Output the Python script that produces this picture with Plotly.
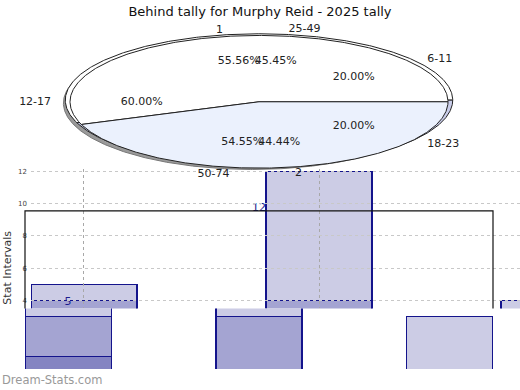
import numpy as np
import plotly.graph_objects as go

# ---------------- data ----------------
title_text = "Behind tally for Murphy Reid - 2025 tally"

pie_a_labels = ["6-11", "12-17", "18-23"]
pie_a_values = [1, 3, 1]
pie_b_labels = ["1", "2"]
pie_b_values = [5, 4]
pie_c_labels = ["25-49", "50-74"]
pie_c_values = [5, 6]

bar_categories = ["Set 1", "Set 2", "Set 3"]
bar_dark = [1, 0, 0]
bar_medium = [3, 4, 0]
bar_light = [1, 8, 4]
y_ticks = [4, 6, 8, 10, 12]
y_title = "Stat Intervals"
watermark = "Dream-Stats.com"

# ---------------- helpers ----------------
W, H = 520, 390


def fx(px):
    return px / W


def fy(py):
    return 1 - py / H


FONT = "DejaVu Sans"
fig = go.Figure()

# ---------------- bars ----------------
colors = {"dark": "#8484C2", "medium": "#A4A4D2", "light": "#CCCCE5"}
edge = "#14148C"
series = [("dark", bar_dark), ("medium", bar_medium), ("light", bar_light)]
for xa, ya in (("x", "y"), ("x2", "y2")):
    for name, vals in series:
        fig.add_trace(go.Bar(
            x=bar_categories, y=vals, width=0.451, name=name,
            marker=dict(color=colors[name], line=dict(color=edge, width=1.2)),
            xaxis=xa, yaxis=ya, showlegend=False, hoverinfo="skip"))

totals = [a + b + c for a, b, c in zip(bar_dark, bar_medium, bar_light)]
fig.add_trace(go.Scatter(
    x=bar_categories, y=totals, mode="text", text=[str(t) for t in totals],
    textposition="middle center", textfont=dict(color="#1c1c8c", size=11, family=FONT),
    cliponaxis=True, xaxis="x3", yaxis="y3", showlegend=False, hoverinfo="skip"))

# grid layer drawn above the upper bars (empty trace just to create the subplot)
fig.add_trace(go.Scatter(x=bar_categories, y=[None] * len(bar_categories), mode="lines",
                         xaxis="x4", yaxis="y4", showlegend=False, hoverinfo="skip"))

# ---------------- pie (3D-ish ellipse) ----------------


def slices(values, cx, cy, rx, ry):
    total = sum(values)
    out = []
    start = 0.0
    for v in values:
        a0 = start
        a1 = start + 360.0 * v / total
        t = np.radians(np.linspace(a0, a1, max(int(a1 - a0) * 2, 3)))
        xs = np.concatenate([[cx], cx + rx * np.cos(t), [cx]])
        ys = np.concatenate([[cy], cy + ry * np.sin(t), [cy]])
        out.append((xs, ys))
        start = a1
    return out


def add_poly(xs, ys, fill, line_color="#222", lw=1.0):
    fig.add_trace(go.Scatter(
        x=xs, y=ys, mode="lines", fill="toself", fillcolor=fill,
        line=dict(color=line_color, width=lw), xaxis="x5", yaxis="y5",
        showlegend=False, hoverinfo="skip"))


# shadow
t = np.radians(np.linspace(0, 360, 721))
add_poly(-0.035 + 1.0 * np.cos(t), -0.02 + 1.0 * np.sin(t), "#9a9a9a", "#777", 1)

# back layer
for (xs, ys), col in zip(slices(pie_b_values, 0.0, 0.025, 1.025, 1.0), ["#FFFFFF", "#C9CDEA"]):
    add_poly(xs, ys, col)
# front layer
for (xs, ys), col in zip(slices(pie_b_values, 0.0, 0.0, 1.0, 1.0), ["#FFFFFF", "#EBF1FD"]):
    add_poly(xs, ys, col)

# labels
for labels, values in ((pie_a_labels, pie_a_values), (pie_b_labels, pie_b_values),
                       (pie_c_labels, pie_c_values)):
    total = sum(values)
    start = 0.0
    ox, oy, otext, opos = [], [], [], []
    px_, py_, ptext = [], [], []
    for lab, v in zip(labels, values):
        frac = v / total
        mid = np.radians(start + 180.0 * frac)
        start += 360.0 * frac
        ox.append(1.1 * np.cos(mid))
        oy.append(1.1 * np.sin(mid))
        otext.append(lab)
        opos.append("middle right" if np.cos(mid) >= 0 else "middle left")
        px_.append(0.62 * np.cos(mid))
        py_.append(0.62 * np.sin(mid))
        ptext.append(f"{100 * frac:.2f}%")
    fig.add_trace(go.Scatter(
        x=ox, y=oy, mode="text", text=otext, textposition=opos,
        textfont=dict(color="#222", size=11, family=FONT), cliponaxis=False,
        xaxis="x5", yaxis="y5", showlegend=False, hoverinfo="skip"))
    fig.add_trace(go.Scatter(
        x=px_, y=py_, mode="text", text=ptext, textposition="middle center",
        textfont=dict(color="#222", size=11, family=FONT), cliponaxis=False,
        xaxis="x5", yaxis="y5", showlegend=False, hoverinfo="skip"))

# ---------------- layout ----------------
cy_px, ry_px, cx_px, rx_px = 100.3, 66.7, 259.0, 189.0
upper_xdom = [fx(31), 1]
upper_ydom = [fy(308), fy(168)]
upper_xrange = [-0.2255, (520 - 84) / 235.0]
upper_yrange = [4 - 8 / 16.3, 12 + 2 / 16.3]
fig.update_layout(
    width=W, height=H, margin=dict(l=0, r=0, t=0, b=0),
    paper_bgcolor="white", plot_bgcolor="rgba(0,0,0,0)",
    barmode="stack", showlegend=False,
    font=dict(family=FONT, color="#222"),
    title=dict(text=title_text, x=0.5, xanchor="center", y=fy(11), yanchor="middle",
               font=dict(size=13, color="#111", family=FONT)),
    # upper bar chart (its grid is drawn above it by axes 4)
    xaxis=dict(domain=upper_xdom, range=upper_xrange, type="category", visible=False,
               showgrid=False, anchor="y"),
    yaxis=dict(domain=upper_ydom, range=upper_yrange, visible=False, showgrid=False,
               anchor="x"),
    # lower bar chart
    xaxis2=dict(domain=[fx(25), fx(493)], range=[-0.2255, 2.2255], type="category",
                visible=False, anchor="y2"),
    yaxis2=dict(domain=[fy(369), fy(308)], range=[(370 - 369) / 13.57, (370 - 308) / 13.57],
                visible=False, anchor="x2"),
    # value labels
    xaxis3=dict(domain=[fx(25), fx(493)], range=[-0.2255, 2.2255], type="category",
                visible=False, anchor="y3"),
    yaxis3=dict(domain=[fy(308), fy(160)], range=[(370 - 308) / 13.57, (370 - 160) / 13.57],
                visible=False, anchor="x3"),
    # grid drawn above the bars
    xaxis4=dict(domain=upper_xdom, range=upper_xrange, type="category",
                showgrid=True, gridcolor="#a8a8a8", griddash="dot", gridwidth=1,
                showticklabels=False, ticks="", zeroline=False, showline=False, anchor="y4"),
    yaxis4=dict(domain=upper_ydom, range=upper_yrange,
                tickvals=y_ticks, showgrid=True, gridcolor="#c8c8c8", griddash="dot",
                gridwidth=1, tickfont=dict(size=7, color="#444", family=FONT),
                ticks="", ticklabelstandoff=3, zeroline=False, showline=False, anchor="x4"),
    # pie
    xaxis5=dict(domain=[0, 1], range=[-cx_px / rx_px, (W - cx_px) / rx_px], visible=False,
                anchor="y5"),
    yaxis5=dict(domain=[fy(180), fy(20)], range=[-(180 - cy_px) / ry_px, (cy_px - 20) / ry_px],
                visible=False, anchor="x5"),
    shapes=[dict(type="path", xref="paper", yref="paper", layer="above",
                 path=f"M {fx(25)},{fy(308)} L {fx(25)},{fy(210)} L {fx(493)},{fy(210)} L {fx(493)},{fy(308)}",
                 line=dict(color="#111", width=1.2))],
    annotations=[
        dict(text=y_title, xref="paper", yref="paper", x=fx(8), y=fy(267), textangle=-90,
             showarrow=False, xanchor="center", yanchor="middle",
             font=dict(size=11, color="#333", family=FONT)),
        dict(text=watermark, xref="paper", yref="paper", x=0, y=fy(380), showarrow=False,
             xanchor="left", yanchor="middle", font=dict(size=11.5, color="#999", family=FONT)),
    ],
)

fig.write_html(
    "out.html",
    config={"displayModeBar": False},
    post_script="document.body.style.margin='0';document.body.style.overflow='hidden';",
)
